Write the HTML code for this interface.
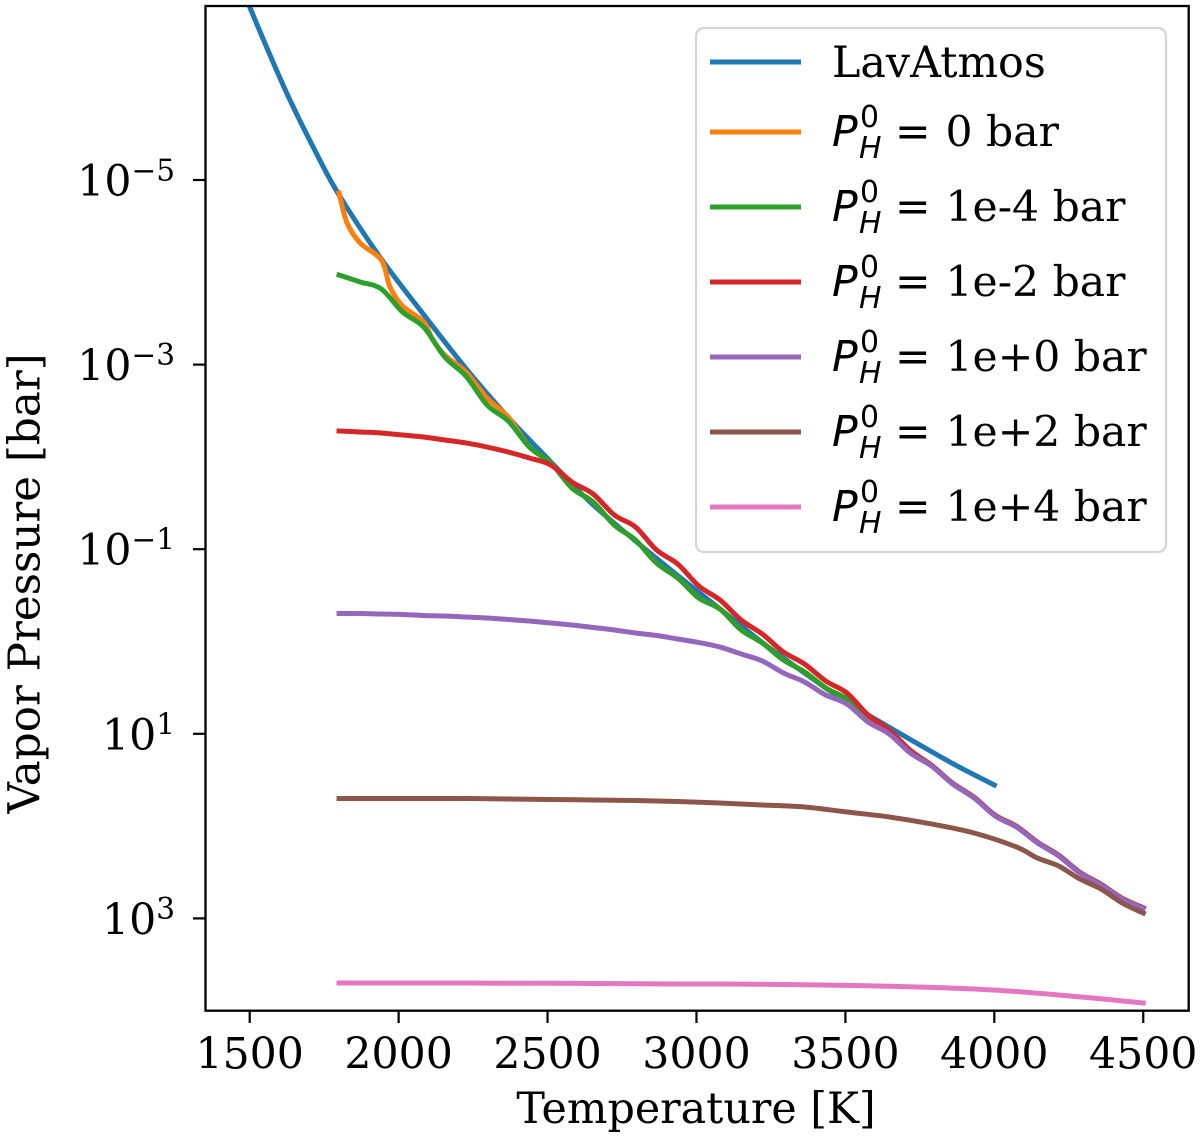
<!DOCTYPE html>
<html lang="en">
<head>
<meta charset="utf-8">
<title>Vapor pressure versus temperature</title>
<style>
html,body{margin:0;padding:0;background:#fff;}
svg{display:block;}
text{font-family:"DejaVu Serif","Liberation Serif",serif;fill:#000;}
.math{font-family:"DejaVu Sans","Liberation Sans",sans-serif;font-style:italic;}
.mathup{font-family:"DejaVu Sans","Liberation Sans",sans-serif;font-style:normal;}
</style>
</head>
<body>
<svg id="chart" xmlns="http://www.w3.org/2000/svg" width="1200" height="1139" viewBox="0 0 1200 1139">
  <defs>
    <clipPath id="plot-clip"><rect x="205.5" y="6" width="983.2" height="1004.7"/></clipPath>
  </defs>
  <rect x="205.5" y="6" width="983.2" height="1004.7" fill="#fff"/>
  <g id="series" clip-path="url(#plot-clip)" fill="none" stroke-width="5" stroke-linejoin="round" stroke-linecap="square"></g>
  <rect x="205.5" y="6" width="983.2" height="1004.7" fill="none" stroke="#000" stroke-width="2.3"/>
  <g id="x-ticks"></g>
  <g id="y-ticks"></g>
  <text x="696" y="1123" font-size="42.8" text-anchor="middle">Temperature [K]</text>
  <text transform="translate(39.5,583.5) rotate(-90)" font-size="43.6" text-anchor="middle">Vapor Pressure [bar]</text>

  <g>
    <rect x="696" y="28" width="470" height="524" rx="8" ry="8" fill="#fff" fill-opacity="0.8" stroke="#d6d6d6" stroke-width="2.3"/>
    <g>
      <line x1="710" x2="801" y1="62" y2="62" stroke="#1f77b4" stroke-width="5"/>
      <text x="832" y="77" font-size="42.8">LavAtmos</text>
    </g>
    <g>
      <line x1="710" x2="801" y1="132" y2="132" stroke="#ff7f0e" stroke-width="5"/>
      <text y="146" font-size="42.5"><tspan class="math" x="832">P</tspan><tspan class="math" x="859" y="158" font-size="29.9">H</tspan><tspan class="mathup" x="860" y="127" font-size="29.9">0</tspan><tspan class="mathup" x="895" y="146">=</tspan><tspan x="945.5" y="146">0 bar</tspan></text>
    </g>
    <g>
      <line x1="710" x2="801" y1="207" y2="207" stroke="#2ca02c" stroke-width="5"/>
      <text y="221" font-size="42.5"><tspan class="math" x="832">P</tspan><tspan class="math" x="859" y="233" font-size="29.9">H</tspan><tspan class="mathup" x="860" y="202" font-size="29.9">0</tspan><tspan class="mathup" x="895" y="221">=</tspan><tspan x="945.5" y="221">1e-4 bar</tspan></text>
    </g>
    <g>
      <line x1="710" x2="801" y1="282" y2="282" stroke="#d62728" stroke-width="5"/>
      <text y="296" font-size="42.5"><tspan class="math" x="832">P</tspan><tspan class="math" x="859" y="308" font-size="29.9">H</tspan><tspan class="mathup" x="860" y="277" font-size="29.9">0</tspan><tspan class="mathup" x="895" y="296">=</tspan><tspan x="945.5" y="296">1e-2 bar</tspan></text>
    </g>
    <g>
      <line x1="710" x2="801" y1="357" y2="357" stroke="#9467bd" stroke-width="5"/>
      <text y="371" font-size="42.5"><tspan class="math" x="832">P</tspan><tspan class="math" x="859" y="383" font-size="29.9">H</tspan><tspan class="mathup" x="860" y="352" font-size="29.9">0</tspan><tspan class="mathup" x="895" y="371">=</tspan><tspan x="945.5" y="371">1e+0 bar</tspan></text>
    </g>
    <g>
      <line x1="710" x2="801" y1="432" y2="432" stroke="#8c564b" stroke-width="5"/>
      <text y="446" font-size="42.5"><tspan class="math" x="832">P</tspan><tspan class="math" x="859" y="458" font-size="29.9">H</tspan><tspan class="mathup" x="860" y="427" font-size="29.9">0</tspan><tspan class="mathup" x="895" y="446">=</tspan><tspan x="945.5" y="446">1e+2 bar</tspan></text>
    </g>
    <g>
      <line x1="710" x2="801" y1="507" y2="507" stroke="#e377c2" stroke-width="5"/>
      <text y="521" font-size="42.5"><tspan class="math" x="832">P</tspan><tspan class="math" x="859" y="533" font-size="29.9">H</tspan><tspan class="mathup" x="860" y="502" font-size="29.9">0</tspan><tspan class="mathup" x="895" y="521">=</tspan><tspan x="945.5" y="521">1e+4 bar</tspan></text>
    </g>
  </g>
</svg>
<script>
const xTickValues = [1500, 2000, 2500, 3000, 3500, 4000, 4500];
const xTickLabels = ['1500', '2000', '2500', '3000', '3500', '4000', '4500'];
const yTickExponents = [-5, -3, -1, 1, 3];
const yTickExponentLabels = ['\u22125', '\u22123', '\u22121', '1', '3'];

const lavAtmosTemperature = [1490, 1500, 1568, 1635, 1713, 1796, 1937, 2072, 2230, 2367, 2508, 2643, 2787, 2935, 3079, 3223, 3358, 3499, 3640, 3851, 4000];
const lavAtmosLogP = [-6.95, -6.874, -6.354, -5.867, -5.358, -4.859, -4.166, -3.592, -2.942, -2.432, -1.956, -1.511, -1.111, -0.720, -0.352, 0.016, 0.330, 0.645, 0.916, 1.306, 1.555];

const fineTemperature = [1800, 1871, 1942, 2013, 2084, 2155, 2226, 2297, 2368, 2439, 2511, 2582, 2653, 2724, 2795, 2866, 2937, 3008, 3079, 3150, 3221, 3292, 3363, 3434, 3505, 3576, 3647, 3718, 3789, 3860, 3932, 4003, 4074, 4145, 4216, 4287, 4358, 4429, 4500];
const orangeTemperature = [1800, 1827, 1871, 1942, 1971, 2013, 2084, 2115, 2155, 2226, 2297, 2368, 2439, 2511, 2582, 2653, 2724, 2795, 2866, 2937, 3008, 3079, 3150, 3221, 3292, 3363, 3434, 3505, 3576, 3647, 3718, 3789, 3860, 3932, 4003, 4074, 4145, 4216, 4287, 4358, 4429, 4500];
const brownTemperature = [1800, 1942, 2084, 2226, 2368, 2511, 2653, 2795, 2937, 3079, 3221, 3363, 3505, 3647, 3789, 3932, 4074, 4145, 4216, 4287, 4358, 4429, 4500];
const knotTemperature = [1800, 1942, 2084, 2226, 2368, 2511, 2653, 2795, 2937, 3079, 3221, 3363, 3505, 3647, 3789, 3932, 4074, 4216, 4358, 4500];

const logP0Bar = [-4.859, -4.534, -4.317, -4.133, -3.841, -3.635, -3.462, -3.267, -3.104, -2.920, -2.638, -2.432, -2.107, -1.934, -1.663, -1.511, -1.262, -1.100, -0.850, -0.688, -0.471, -0.352, -0.125, 0.016, 0.200, 0.330, 0.504, 0.623, 0.807, 0.960, 1.180, 1.341, 1.536, 1.688, 1.883, 2.002, 2.175, 2.316, 2.500, 2.630, 2.782, 2.885];
const logP1em4Bar = [-3.971, -3.895, -3.819, -3.570, -3.407, -3.082, -2.876, -2.562, -2.389, -2.107, -1.934, -1.663, -1.511, -1.262, -1.100, -0.850, -0.688, -0.471, -0.352, -0.125, 0.016, 0.200, 0.330, 0.504, 0.623, 0.807, 0.960, 1.180, 1.341, 1.536, 1.688, 1.883, 2.002, 2.175, 2.316, 2.500, 2.630, 2.782, 2.885];
const logP1em2Bar = [-2.281, -2.270, -2.259, -2.237, -2.216, -2.183, -2.151, -2.107, -2.053, -1.988, -1.912, -1.728, -1.598, -1.371, -1.241, -0.991, -0.840, -0.601, -0.450, -0.233, -0.081, 0.114, 0.244, 0.428, 0.558, 0.796, 0.960, 1.180, 1.341, 1.536, 1.688, 1.883, 2.002, 2.175, 2.316, 2.500, 2.630, 2.782, 2.885];
const logP1e0Bar = [-0.303, -0.303, -0.298, -0.293, -0.282, -0.276, -0.265, -0.255, -0.238, -0.222, -0.200, -0.179, -0.152, -0.125, -0.092, -0.065, -0.027, 0.011, 0.060, 0.135, 0.211, 0.341, 0.439, 0.580, 0.677, 0.872, 1.002, 1.208, 1.349, 1.544, 1.696, 1.891, 2.010, 2.183, 2.324, 2.508, 2.638, 2.790, 2.893];
const logP1e2Bar = [1.701, 1.701, 1.701, 1.701, 1.706, 1.712, 1.717, 1.723, 1.734, 1.750, 1.771, 1.793, 1.847, 1.901, 1.977, 2.075, 2.226, 2.346, 2.432, 2.573, 2.681, 2.833, 2.942];
const logP1e4Bar = [3.700, 3.700, 3.700, 3.700, 3.702, 3.703, 3.705, 3.708, 3.711, 3.711, 3.714, 3.719, 3.725, 3.735, 3.747, 3.765, 3.792, 3.830, 3.871, 3.917];

const SVG_NS = 'http://www.w3.org/2000/svg';
function xScale(t) { return 249.7 + (t - 1500) * 0.29785; }
function yScale(logP) { return 641.5 + logP * 92.3; }

function smoothPath(points) {
  let d = 'M' + points[0][0].toFixed(2) + ' ' + points[0][1].toFixed(2);
  for (let i = 0; i < points.length - 1; i++) {
    const p0 = points[Math.max(i - 1, 0)];
    const p1 = points[i];
    const p2 = points[i + 1];
    const p3 = points[Math.min(i + 2, points.length - 1)];
    const c1x = p1[0] + (p2[0] - p0[0]) / 6;
    const c1y = p1[1] + (p2[1] - p0[1]) / 6;
    const c2x = p2[0] - (p3[0] - p1[0]) / 6;
    const c2y = p2[1] - (p3[1] - p1[1]) / 6;
    d += ' C' + c1x.toFixed(2) + ' ' + c1y.toFixed(2) + ' ' + c2x.toFixed(2) + ' ' + c2y.toFixed(2) + ' ' + p2[0].toFixed(2) + ' ' + p2[1].toFixed(2);
  }
  return d;
}

function drawSeries(temperature, logP, color, name) {
  const points = temperature.map(function (t, i) {
    return [xScale(t), yScale(logP[i])];
  });
  const path = document.createElementNS(SVG_NS, 'path');
  path.setAttribute('d', smoothPath(points));
  path.setAttribute('stroke', color);
  
  
  document.getElementById('series').appendChild(path);
}

drawSeries(lavAtmosTemperature, lavAtmosLogP, '#1f77b4', 'line-lavatmos');
drawSeries(orangeTemperature, logP0Bar, '#ff7f0e', 'line-0-bar');
drawSeries(fineTemperature, logP1em4Bar, '#2ca02c', 'line-1e-4-bar');
drawSeries(fineTemperature, logP1em2Bar, '#d62728', 'line-1e-2-bar');
drawSeries(fineTemperature, logP1e0Bar, '#9467bd', 'line-1e0-bar');
drawSeries(brownTemperature, logP1e2Bar, '#8c564b', 'line-1e2-bar');
drawSeries(knotTemperature, logP1e4Bar, '#e377c2', 'line-1e4-bar');

const xTickGroup = document.getElementById('x-ticks');
xTickValues.forEach(function (value, i) {
  const x = xScale(value);
  const tick = document.createElementNS(SVG_NS, 'line');
  tick.setAttribute('x1', x);
  tick.setAttribute('x2', x);
  tick.setAttribute('y1', 1010.7);
  tick.setAttribute('y2', 1023);
  tick.setAttribute('stroke', '#000');
  tick.setAttribute('stroke-width', '2.2');
  
  
  xTickGroup.appendChild(tick);
  const label = document.createElementNS(SVG_NS, 'text');
  label.setAttribute('x', x);
  label.setAttribute('y', 1068.5);
  label.setAttribute('font-size', '42.6');
  label.setAttribute('text-anchor', 'middle');
  
  
  label.textContent = xTickLabels[i];
  xTickGroup.appendChild(label);
});

const yTickGroup = document.getElementById('y-ticks');
yTickExponents.forEach(function (exponent, i) {
  const y = yScale(exponent);
  const tick = document.createElementNS(SVG_NS, 'line');
  tick.setAttribute('x1', 193);
  tick.setAttribute('x2', 205.5);
  tick.setAttribute('y1', y);
  tick.setAttribute('y2', y);
  tick.setAttribute('stroke', '#000');
  tick.setAttribute('stroke-width', '2.2');
  
  
  yTickGroup.appendChild(tick);
  const label = document.createElementNS(SVG_NS, 'text');
  label.setAttribute('x', 175);
  label.setAttribute('y', y + 16);
  label.setAttribute('font-size', '42.6');
  label.setAttribute('text-anchor', 'end');
  
  
  const base = document.createElementNS(SVG_NS, 'tspan');
  base.textContent = '10';
  label.appendChild(base);
  const sup = document.createElementNS(SVG_NS, 'tspan');
  sup.setAttribute('font-size', '29.5');
  sup.setAttribute('dy', '-15.5');
  sup.textContent = yTickExponentLabels[i];
  label.appendChild(sup);
  yTickGroup.appendChild(label);
});
</script>
</body>
</html>
